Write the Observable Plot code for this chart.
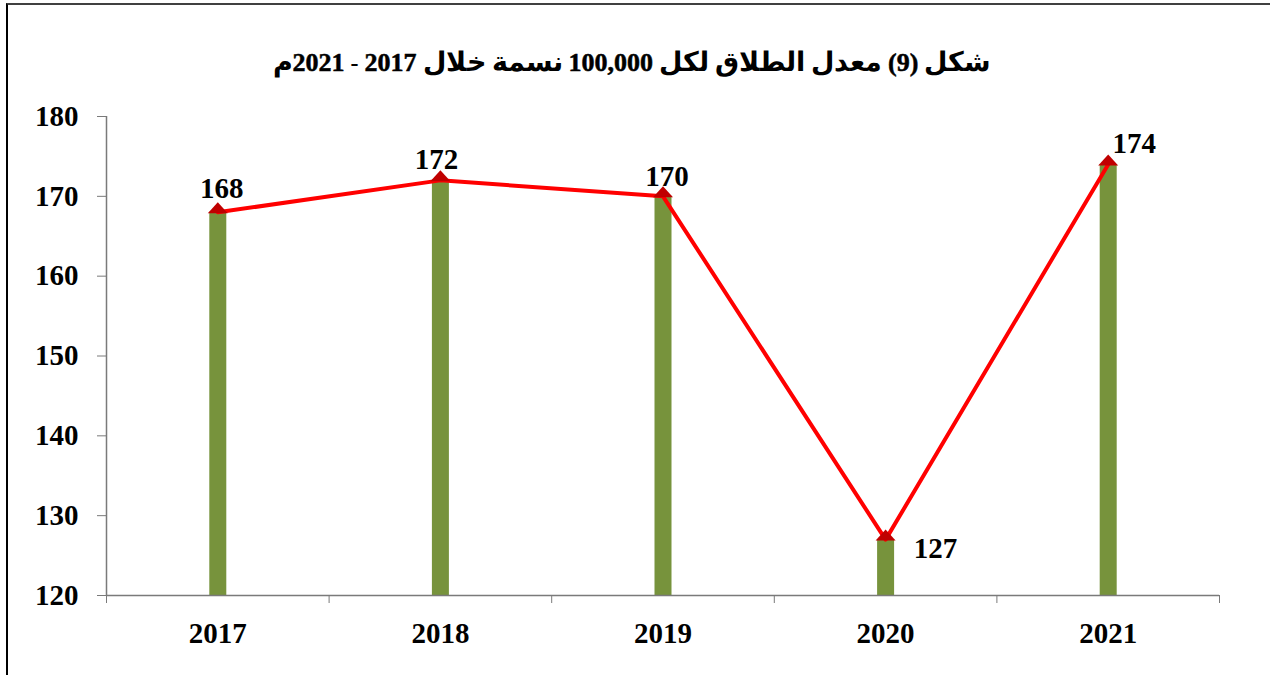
<!DOCTYPE html>
<html><head><meta charset="utf-8">
<script src="https://cdn.jsdelivr.net/npm/d3@7"></script>
<script src="https://cdn.jsdelivr.net/npm/@observablehq/plot@0.6"></script>
<style>
@font-face{font-family:"ArabicBig";src:local("DejaVu Sans Bold"),local("DejaVuSans-Bold");font-weight:bold;unicode-range:U+0600-06FF,U+FE70-FEFF;size-adjust:111%;}
body{margin:0;background:#fff;}
#wrap{position:relative;width:1270px;height:675px;overflow:hidden;background:#fff;}
#frame{position:absolute;left:6px;top:3px;width:1300px;height:700px;border-left:2px solid #000;border-top:2px solid #404040;}
#title{position:absolute;left:0;top:51px;width:1264px;text-align:center;direction:rtl;font:bold 24px/24px "ArabicBig","Liberation Serif","Times New Roman",serif;color:#000;}
#title .num{font-family:"Liberation Serif","Times New Roman",serif;font-size:26px;font-weight:bold;-webkit-text-stroke:0.5px #000;}
#chart{position:absolute;left:0;top:0;}
</style></head><body>
<div id="wrap"><div id="frame"></div><div id="chart"></div><div id="title"></div></div>
<script>
const years = [2017, 2018, 2019, 2020, 2021];
const rates = [168, 172, 170, 127, 174];
const yTicks = [120, 130, 140, 150, 160, 170, 180];
const titleText = "شكل (9) معدل الطلاق لكل 100,000 نسمة خلال  2017 - 2021م";

const data = years.map((year, i) => ({year, rate: rates[i]}));
const boundaries = d3.range(years[0] - 0.5, years[years.length - 1] + 1, 1);

// label placement (style, not data)
const labelPlacement = [
  {dx: 4, dy: -24},
  {dx: -4, dy: -21},
  {dx: 4, dy: -20},
  {dx: 50, dy: 9},
  {dx: 26, dy: -21}
];

const flatTriangle = {
  draw(ctx, size) {
    const r = Math.sqrt(size / Math.PI);
    ctx.moveTo(-r, 1);
    ctx.lineTo(r, 1);
    ctx.lineTo(0, 1 - 1.1 * r);
    ctx.closePath();
  }
};

const axisColor = "#7a7a7a";

const chart = Plot.plot({
  width: 1270,
  height: 675,
  marginLeft: 106,
  marginRight: 51,
  marginTop: 116,
  marginBottom: 80,
  style: {fontFamily: "'Liberation Serif','Times New Roman',serif", fontWeight: "bold", fontSize: "29px", background: "transparent", color: "#000"},
  x: {domain: [boundaries[0], boundaries[boundaries.length - 1]]},
  y: {domain: [yTicks[0], yTicks[yTicks.length - 1]]},
  marks: [
    Plot.ruleX(data, {x: "year", y1: yTicks[0], y2: "rate", stroke: "#77933c", strokeWidth: 17}),
    Plot.ruleY([yTicks[0]], {stroke: axisColor, strokeWidth: 1.5}),
    Plot.ruleX([boundaries[0]], {stroke: axisColor, strokeWidth: 1.5}),
    Plot.axisY({ticks: yTicks, tickSize: 9, tickPadding: 19, stroke: axisColor, label: null}),
    Plot.axisX({ticks: boundaries, tickSize: 8, tickFormat: () => "", stroke: axisColor, label: null}),
    Plot.axisX({ticks: years, tickSize: 0, tickPadding: 27, tickFormat: d => String(d), label: null}),
    Plot.line(data, {x: "year", y: "rate", stroke: "#ff0000", strokeWidth: 4}),
    Plot.dot(data, {x: "year", y: "rate", symbol: flatTriangle, r: 10, fill: "#c00000", stroke: "none"}),
    ...data.map((d, i) => Plot.text([d], {x: "year", y: "rate", text: v => String(v.rate), dx: labelPlacement[i].dx, dy: labelPlacement[i].dy, fill: "#000", fontSize: 29, fontWeight: "bold"}))
  ]
});
document.getElementById("chart").appendChild(chart);

// title: numeric runs set in the serif face
const titleEl = document.getElementById("title");
titleText.split(/(\(?[0-9][0-9,]*\)?)/).forEach((part, i) => {
  if (!part) return;
  if (i % 2 === 1) {
    const s = document.createElement("span");
    s.className = "num";
    s.textContent = part;
    titleEl.appendChild(s);
  } else {
    titleEl.appendChild(document.createTextNode(part));
  }
});
</script>
</body></html>
